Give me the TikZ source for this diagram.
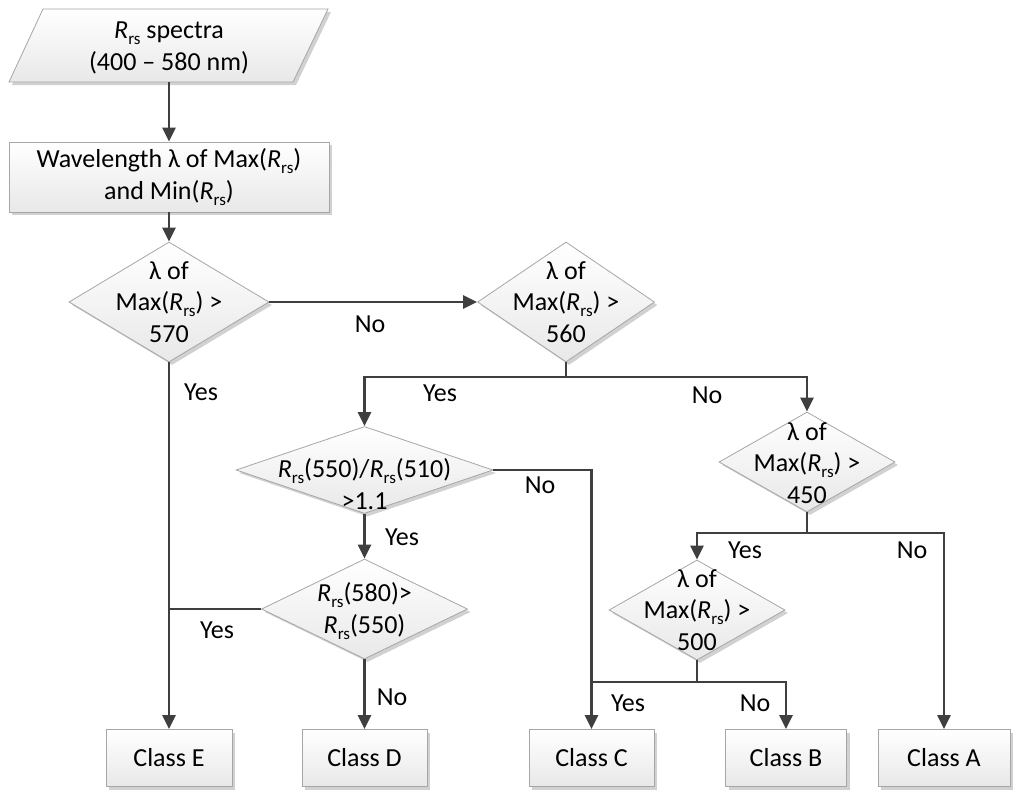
\documentclass[tikz,border=0pt]{standalone}
\usepackage{fontspec}
\setmainfont{Carlito}
\usetikzlibrary{shapes.geometric,arrows.meta,shadows}
\definecolor{lncol}{HTML}{3F3F3F}
\definecolor{bdcol}{HTML}{A6A6A6}
\newcommand{\rsub}{\raisebox{-0.22em}{\fontsize{17}{17}\selectfont rs}}
\newcommand{\Rrs}{\textit{R}\rsub}
\tikzset{
 shp/.style={draw=bdcol, line width=0.8pt, top color=white, bottom color=black!9,
   drop shadow={shadow xshift=3pt, shadow yshift=-3pt, fill=black, opacity=0.18}},
 boxn/.style={shp, rectangle, inner sep=0pt},
 dia/.style={shp, diamond, inner sep=0pt},
 txt/.style={font=\fontsize{26}{31.5}\selectfont, align=center, inner sep=0pt, text=black},
 conn/.style={draw=lncol, line width=2.6pt},
 arr/.style={conn, -{Triangle[length=14pt,width=13pt]}},
 lab/.style={font=\fontsize{26}{31.5}\selectfont, inner sep=0pt, text=black},
}
\begin{document}
\begin{tikzpicture}[x=1pt,y=-1pt]
\fill[white] (0,0) rectangle (1024,798);
\useasboundingbox (0,0) rectangle (1024,798);

% input parallelogram
\path[shp] (43,9) -- (328,9) -- (293,82) -- (9,82) -- cycle;
\node[txt] (in) at (169,48) {\Rrs{} spectra\\(400 – 580 nm)};
\coordinate (inb) at (169,82);

% process box
\node[boxn, txt, minimum width=320pt, minimum height=70pt] (b2) at (169,177)
  {Wavelength λ of Max(\Rrs)\\and Min(\Rrs)};

% diamonds
\node[dia, minimum width=200pt, minimum height=120pt] (d1) at (169,302) {};
\node[txt] (d1t) at (169,302) {λ of\\Max(\Rrs) >\\570};
\node[dia, minimum width=177pt, minimum height=120pt] (d2) at (566,302) {};
\node[txt] (d2t) at (566,302) {λ of\\Max(\Rrs) >\\560};
\node[dia, minimum width=257pt, minimum height=87pt] (d3) at (364.5,470) {};
\node[txt] (d3t) at (364.5,484) {\Rrs(550)/\Rrs(510)\\>1.1};
\node[dia, minimum width=206pt, minimum height=100pt] (d5) at (364.5,609) {};
\node[txt] (d5t) at (364.5,611) {\Rrs(580)>\\\Rrs(550)};
\node[dia, minimum width=176pt, minimum height=100pt] (d4) at (807,462) {};
\node[txt] (d4t) at (807,463) {λ of\\Max(\Rrs) >\\450};
\node[dia, minimum width=176pt, minimum height=100pt] (d6) at (697,610) {};
\node[txt] (d6t) at (697,610) {λ of\\Max(\Rrs) >\\500};

% classes
\node[boxn, txt, minimum width=126pt, minimum height=57pt] (E) at (169,758) {Class E};
\node[boxn, txt, minimum width=125pt, minimum height=57pt] (D) at (364.5,758) {Class D};
\node[boxn, txt, minimum width=125pt, minimum height=57pt] (C) at (591.5,758) {Class C};
\node[boxn, txt, minimum width=121pt, minimum height=57pt] (B) at (786,758) {Class B};
\node[boxn, txt, minimum width=132pt, minimum height=57pt] (A) at (944,758) {Class A};

% junctions
\coordinate (j2) at (566,377);
\coordinate (j4) at (807,533);
\coordinate (j6) at (697,682);

% connectors
\draw[arr] (inb) -- (b2.north);
\draw[arr] (b2.south) -- (d1.north);
\draw[arr] (d1.east) -- (d2.west);
\draw[arr] (d1.south) -- (E.north);
\draw[conn] (d2.south) -- (j2);
\draw[arr] (j2) -| (d3.north);
\draw[arr] (j2) -| (d4.north);
\draw[arr] (d3.east) -| (C.north);
\draw[arr] (d3.south) -- (d5.north);
\draw[conn] (d5.west) -- (d5.west -| d1.south);
\draw[arr] (d5.south) -- (D.north);
\draw[conn] (d4.south) -- (j4);
\draw[arr] (j4) -| (d6.north);
\draw[arr] (j4) -| (A.north);
\draw[conn] (d6.south) -- (j6);
\draw[arr] (j6) -| (B.north);
\draw[conn] (j6) -- (j6 -| C.north);

% labels
\node[lab] (l1) at (370,324) {No};
\node[lab] (l2) at (201,392) {Yes};
\node[lab] (l3) at (440,393) {Yes};
\node[lab] (l4) at (707,395) {No};
\node[lab] (l5) at (540,485) {No};
\node[lab] (l6) at (402,537) {Yes};
\node[lab] (l7) at (217,630) {Yes};
\node[lab] (l8) at (392,697) {No};
\node[lab] (l9) at (745,550) {Yes};
\node[lab] (l10) at (912,550) {No};
\node[lab] (l11) at (628,703) {Yes};
\node[lab] (l12) at (755,703) {No};
\end{tikzpicture}
\end{document}
